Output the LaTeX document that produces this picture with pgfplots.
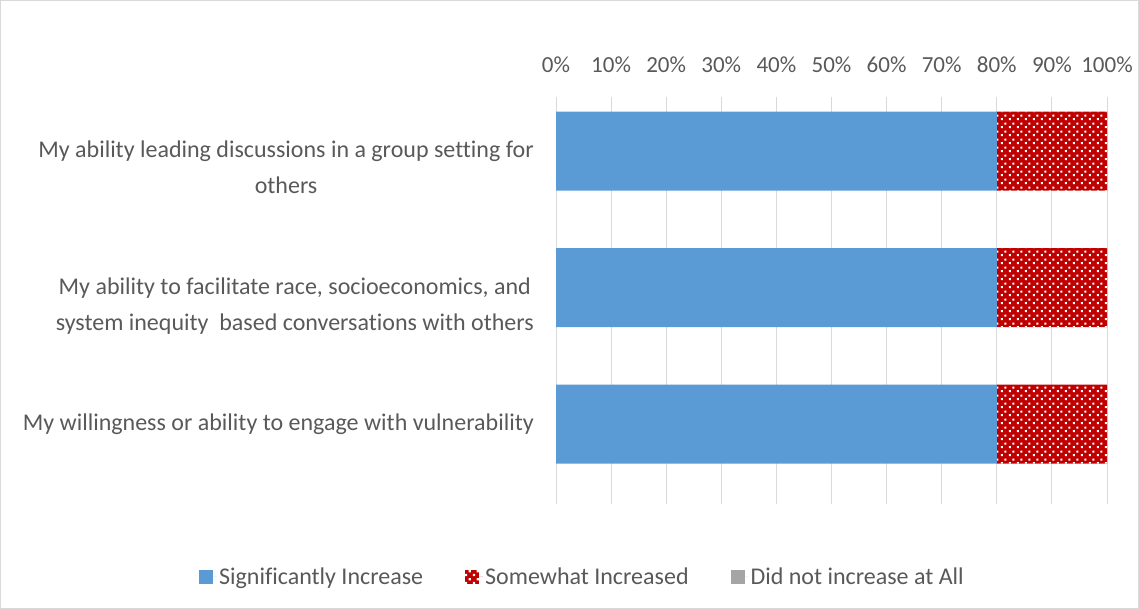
\documentclass[border=0pt]{standalone}
\usepackage{pgfplots}
\pgfplotsset{compat=1.18}
\usepackage{fontspec}
\setmainfont{Carlito}[Ligatures=NoCommon]
\usetikzlibrary{patterns}
\definecolor{sigblue}{HTML}{5B9BD5}
\definecolor{somered}{HTML}{C00000}
\definecolor{notgray}{HTML}{A5A5A5}
\definecolor{txt}{HTML}{595959}
\definecolor{gridc}{HTML}{D9D9D9}
\pgfdeclarepatternformonly{sqdots}{\pgfqpoint{0bp}{0bp}}{\pgfqpoint{8bp}{8bp}}{\pgfqpoint{8bp}{8bp}}{%
  \pgfpathrectangle{\pgfqpoint{1bp}{1bp}}{\pgfqpoint{2.2bp}{2.2bp}}%
  \pgfpathrectangle{\pgfqpoint{5bp}{5bp}}{\pgfqpoint{2.2bp}{2.2bp}}%
  \pgfusepath{fill}}
\begin{document}
\begin{tikzpicture}
\draw[gridc, line width=1bp] (0.5bp,0.5bp) rectangle (1138.5bp,608.5bp);
\begin{axis}[
  at={(556bp,105bp)}, anchor=south west,
  scale only axis, width=551bp, height=407bp,
  xbar stacked, bar width=79bp,
  xmin=0, xmax=100, ymin=-0.396, ymax=2.586, y dir=reverse,
  xtick={0,10,20,30,40,50,60,70,80,90,100},
  xticklabels={0\%,10\%,20\%,30\%,40\%,50\%,60\%,70\%,80\%,90\%,100\%},
  xticklabel pos=upper,
  ytick={0,1,2},
  yticklabels={{My ability leading discussions in a group setting for\\others},
               {My ability to facilitate race, socioeconomics, and\\system inequity\ \ based conversations with others},
               {My willingness or ability to engage with vulnerability}},
  axis line style={draw=none},
  major tick length=0pt,
  xmajorgrids, ymajorgrids=false,
  major grid style={gridc, line width=1bp},
  xticklabel style={text=txt, font=\fontsize{23bp}{28bp}\selectfont, yshift=21bp},
  yticklabel style={text=txt, font=\fontsize{24bp}{36bp}\selectfont, align=center, anchor=north east, inner sep=0pt, xshift=-22bp, yshift=10bp},
  legend style={at={(0.048,-0.179)}, anchor=center, legend columns=3, draw=none,
    font=\fontsize{24bp}{28bp}\selectfont, text=txt,
    /tikz/every even column/.append style={column sep=40bp}},
  legend image code/.code={\draw[#1, draw=none] (0bp,-7bp) rectangle (14bp,7bp); \path (0bp,0bp) -- (18bp,0bp);},
]
\addplot[fill=sigblue, draw=none] coordinates {(80,0) (80,1) (80,2)};
\addplot[fill=somered, draw=none, postaction={pattern=sqdots, pattern color=white}] coordinates {(20,0) (20,1) (20,2)};
\addplot[fill=notgray, draw=none] coordinates {(0,0) (0,1) (0,2)};
\legend{Significantly Increase, Somewhat Increased, Did not increase at All}
\end{axis}
\end{tikzpicture}
\end{document}
